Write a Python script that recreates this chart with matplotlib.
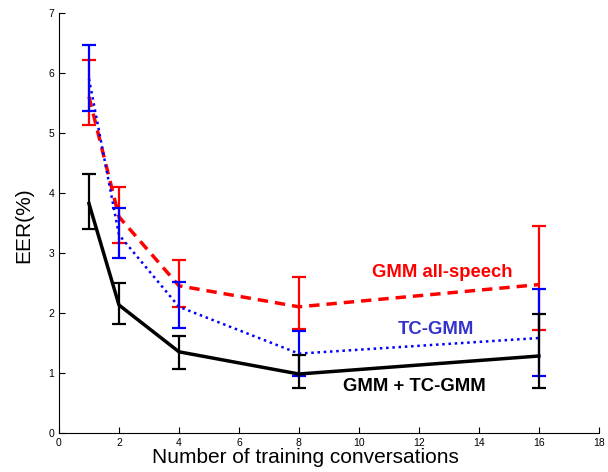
import matplotlib
matplotlib.use("Agg")
import matplotlib.pyplot as plt

plt.rcParams['font.family'] = ['Liberation Sans', 'DejaVu Sans']

# number of training conversations
convs = [1, 2, 4, 8, 16]

# GMM all-speech
gmm_all = [5.6, 3.6, 2.45, 2.1, 2.47]
gmm_all_hi = [6.22, 4.1, 2.88, 2.6, 3.45]
gmm_all_lo = [5.13, 3.16, 2.09, 1.73, 1.72]

# TC-GMM
tc_gmm = [5.9, 3.3, 2.1, 1.32, 1.58]
tc_gmm_hi = [6.47, 3.75, 2.52, 1.7, 2.4]
tc_gmm_lo = [5.36, 2.92, 1.75, 0.94, 0.95]

# GMM + TC-GMM
combo = [3.82, 2.13, 1.35, 0.98, 1.28]
combo_hi = [4.31, 2.5, 1.62, 1.3, 1.98]
combo_lo = [3.4, 1.82, 1.07, 0.75, 0.75]

fig = plt.figure(figsize=(6.08, 4.72), dpi=100)
ax = fig.add_axes([0.097, 0.083, 0.888, 0.89])


def draw(y, hi, lo, color, ls, lw):
    err = [[m - l for m, l in zip(y, lo)], [h - m for m, h in zip(y, hi)]]
    ax.errorbar(convs, y, yerr=err, color=color, ls='none', elinewidth=1.6,
                capsize=5, capthick=1.6)
    ax.plot(convs, y, color=color, ls=ls, lw=lw)


draw(gmm_all, gmm_all_hi, gmm_all_lo, '#ff0000', (0, (3, 2)), 2.5)
draw(tc_gmm, tc_gmm_hi, tc_gmm_lo, '#0000ff', (0, (1, 1.5)), 1.8)
draw(combo, combo_hi, combo_lo, 'black', '-', 2.5)

ax.text(10.45, 2.67, 'GMM all-speech', color='#ff0000', fontsize=13.3,
        fontweight='bold', va='center')
ax.text(11.3, 1.72, 'TC-GMM', color='#3333cc', fontsize=13.3,
        fontweight='bold', va='center')
ax.text(9.47, 0.77, 'GMM + TC-GMM', color='black', fontsize=13.3,
        fontweight='bold', va='center')

ax.set_xlim(0, 18)
ax.set_ylim(0, 7)
ax.set_xticks(range(0, 19, 2))
ax.set_yticks(range(0, 8))
ax.tick_params(direction='in', labelsize=7.5, length=4)
ax.spines['top'].set_visible(False)
ax.spines['right'].set_visible(False)
ax.set_xlabel('Number of training conversations', fontsize=15, labelpad=0)
ax.xaxis.set_label_coords(0.457, -0.035)
ax.set_ylabel('EER(%)', fontsize=15)
ax.yaxis.set_label_coords(-0.048, 0.495)

fig.savefig('out.png', dpi=100)
